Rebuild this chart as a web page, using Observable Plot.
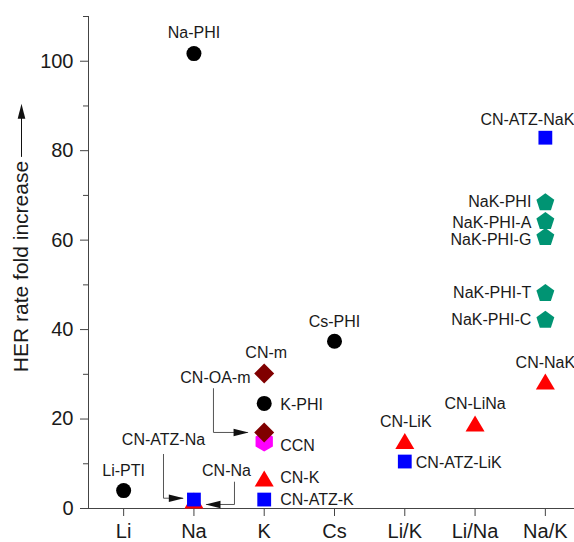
<!DOCTYPE html>
<html><head><meta charset="utf-8">
<script src="https://cdn.jsdelivr.net/npm/d3@7"></script>
<script src="https://cdn.jsdelivr.net/npm/@observablehq/plot@0.6"></script>
<style>body{margin:0;background:#fff}</style>
</head><body><div id="chart"></div>
<script>
// ---- data ----
const categories = ["Li", "Na", "K", "Cs", "Li/K", "Li/Na", "Na/K"];
const names   = ["Li-PTI","Na-PHI","K-PHI","Cs-PHI",
                 "CN-Na","CN-K","CN-LiK","CN-LiNa","CN-NaK",
                 "CN-ATZ-Na","CN-ATZ-K","CN-ATZ-LiK","CN-ATZ-NaK",
                 "CN-m","CN-OA-m","CCN",
                 "NaK-PHI","NaK-PHI-A","NaK-PHI-G","NaK-PHI-T","NaK-PHI-C"];
const cations = ["Li","Na","K","Cs",
                 "Na","K","Li/K","Li/Na","Na/K",
                 "Na","K","Li/K","Na/K",
                 "K","K","K",
                 "Na/K","Na/K","Na/K","Na/K","Na/K"];
const folds   = [4.0, 101.7, 23.5, 37.4,
                 1.8, 6.7, 15.1, 19.0, 28.4,
                 2.0, 2.0, 10.5, 82.9,
                 30.2, 17.0, 15.0,
                 68.6, 64.4, 60.8, 48.3, 42.3];
const families = ["PHI","PHI","PHI","PHI",
                  "CN","CN","CN","CN","CN",
                  "CN-ATZ","CN-ATZ","CN-ATZ","CN-ATZ",
                  "CN-m","CN-m","CCN",
                  "NaK-PHI","NaK-PHI","NaK-PHI","NaK-PHI","NaK-PHI"];
const yTicks = [0, 20, 40, 60, 80, 100];
const yMinorTicks = [10, 30, 50, 70, 90, 110];
const yLabel = "HER rate fold increase";

const points = names.map((n, i) => ({name: n, x: categories.indexOf(cations[i]), y: folds[i], family: families[i]}));

// ---- symbols ----
const R = s => Math.sqrt(s / Math.PI);
const symTri = {draw(c, s) { const r = R(s), h = r * 0.84; c.moveTo(0, -h); c.lineTo(r, h); c.lineTo(-r, h); c.closePath(); }};
const symSquare = {draw(c, s) { const r = R(s); c.moveTo(-r, -r); c.lineTo(r, -r); c.lineTo(r, r); c.lineTo(-r, r); c.closePath(); }};
const symDiamond = {draw(c, s) { const r = R(s); c.moveTo(0, -r); c.lineTo(r, 0); c.lineTo(0, r); c.lineTo(-r, 0); c.closePath(); }};
const symPent = {draw(c, s) { const r = R(s), sh = r * 0.0955;
  for (let k = 0; k < 5; k++) { const a = (-90 + 72 * k) * Math.PI / 180; const px = r * Math.cos(a), py = r * Math.sin(a) + sh; k ? c.lineTo(px, py) : c.moveTo(px, py); } c.closePath(); }};
const symHex = {draw(c, s) { const r = R(s);
  for (let k = 0; k < 6; k++) { const a = (-90 + 60 * k) * Math.PI / 180; const px = r * Math.cos(a), py = r * Math.sin(a); k ? c.lineTo(px, py) : c.moveTo(px, py); } c.closePath(); }};
const symHead = {draw(c) { c.moveTo(0, 0); c.lineTo(-15, -3.8); c.lineTo(-15, 3.8); c.closePath(); }};

const styleByFamily = {
  "CN":      {symbol: symTri, fill: "#ff0000", r: 9.5},
  "CCN":     {symbol: symHex, fill: "#ff00ff", r: 10},
  "PHI":     {symbol: "circle", fill: "#000000", r: 7.5},
  "CN-m":    {symbol: symDiamond, fill: "#800000", r: 10},
  "CN-ATZ":  {symbol: symSquare, fill: "#0000ff", r: 6.9},
  "NaK-PHI": {symbol: symPent, fill: "#009473", r: 9.4}
};
const drawOrder = ["CN", "CCN", "PHI", "CN-m", "CN-ATZ", "NaK-PHI"];

// label placements (anchor, dx, dy in px)
const placement = {
  "Li-PTI": ["middle", 0, -20], "Na-PHI": ["middle", 0, -21], "K-PHI": ["start", 16, 1], "Cs-PHI": ["middle", 0, -19],
  "CN-K": ["start", 16, -1], "CN-LiK": ["middle", 1, -19], "CN-LiNa": ["middle", 0, -20], "CN-NaK": ["middle", 0, -19],
  "CN-ATZ-K": ["start", 16, 0], "CN-ATZ-LiK": ["start", 11, 1], "CN-ATZ-NaK": ["middle", -18, -18],
  "CN-m": ["middle", 2, -21], "CCN": ["start", 16, 4],
  "NaK-PHI": ["end", -14, 0], "NaK-PHI-A": ["end", -14, 2], "NaK-PHI-G": ["end", -14, 3],
  "NaK-PHI-T": ["end", -14, 0], "NaK-PHI-C": ["end", -14, 1]
};

// leader annotations (data coordinates)
const leaders = [
  {label: "CN-OA-m", lx: 1.805, ly: 29.1, anchor: "end", path: [[1.278, 26.8], [1.278, 17.0], [1.76, 17.0]], head: [1.777, 17.0], rot: 0},
  {label: "CN-ATZ-Na", lx: 0.567, ly: 15.4, anchor: "middle", path: [[0.567, 12.1], [0.567, 2.3], [0.84, 2.3]], head: [0.856, 2.3], rot: 0},
  {label: "CN-Na", lx: 1.463, ly: 8.5, anchor: "middle", path: [[1.577, 5.9], [1.577, 0.9], [1.18, 0.9]], head: [1.165, 0.9], rot: 180}
];

const textColor = "#1a1a1a";
const marks = [];
// axes
marks.push(Plot.axisY({ticks: yMinorTicks, tickSize: 5, tickFormat: () => "", label: null, stroke: "#444"}));
marks.push(Plot.axisY({ticks: yTicks, tickSize: 8, tickPadding: 7, fontSize: 20, label: null, stroke: "#444", fill: textColor}));
marks.push(Plot.axisX({ticks: d3.range(categories.length), tickFormat: i => categories[i], tickSize: 8, tickPadding: 7, fontSize: 20, label: null, stroke: "#444", fill: textColor}));
marks.push(Plot.ruleY([0], {stroke: "#444"}));
marks.push(Plot.ruleX([-0.5], {stroke: "#444"}));
// y label with arrow
marks.push(Plot.text([yLabel], {x: () => -0.5, y: () => 54.1, text: d => d, rotate: -90, dx: -67, fontSize: 21, fill: textColor, textAnchor: "middle", lineAnchor: "middle"}));
marks.push(Plot.ruleX([-0.5], {y1: 78.5, y2: 88, dx: -67, stroke: "#111", strokeWidth: 1}));
marks.push(Plot.dot([0], {x: () => -0.5, y: () => 90.5, dx: -67, symbol: symHead, rotate: -90, fill: "#111", stroke: "none", r: 5}));
// leader lines
for (const L of leaders) {
  marks.push(Plot.line(L.path, {x: d => d[0], y: d => d[1], stroke: "#555", strokeWidth: 1}));
}
// points
for (const f of drawOrder) {
  const st = styleByFamily[f];
  marks.push(Plot.dot(points.filter(p => p.family === f), {x: "x", y: "y", symbol: st.symbol, fill: st.fill, r: st.r, stroke: "none"}));
}
// arrowheads
for (const L of leaders) {
  marks.push(Plot.dot([L.head], {x: d => d[0], y: d => d[1], symbol: symHead, rotate: L.rot, fill: "#111", stroke: "none", r: 5}));
  marks.push(Plot.text([L], {x: "lx", y: "ly", text: "label", textAnchor: L.anchor, fontSize: 16, fill: textColor, lineAnchor: "middle"}));
}
// labels
for (const p of points) {
  const pl = placement[p.name];
  if (!pl) continue;
  marks.push(Plot.text([p], {x: "x", y: "y", text: "name", textAnchor: pl[0], dx: pl[1], dy: pl[2], fontSize: 16, fill: textColor, lineAnchor: "middle"}));
}

const chart = Plot.plot({
  width: 574, height: 542,
  marginLeft: 88, marginRight: 0, marginTop: 16, marginBottom: 34,
  style: {fontFamily: "'Liberation Sans', Arial, sans-serif", background: "#fff", color: "#333", overflow: "visible"},
  x: {domain: [-0.5, 6.5], range: [88, 580]},
  y: {domain: [0, 110], range: [508, 16]},
  marks
});
document.getElementById("chart").append(chart);
</script>
</body></html>
